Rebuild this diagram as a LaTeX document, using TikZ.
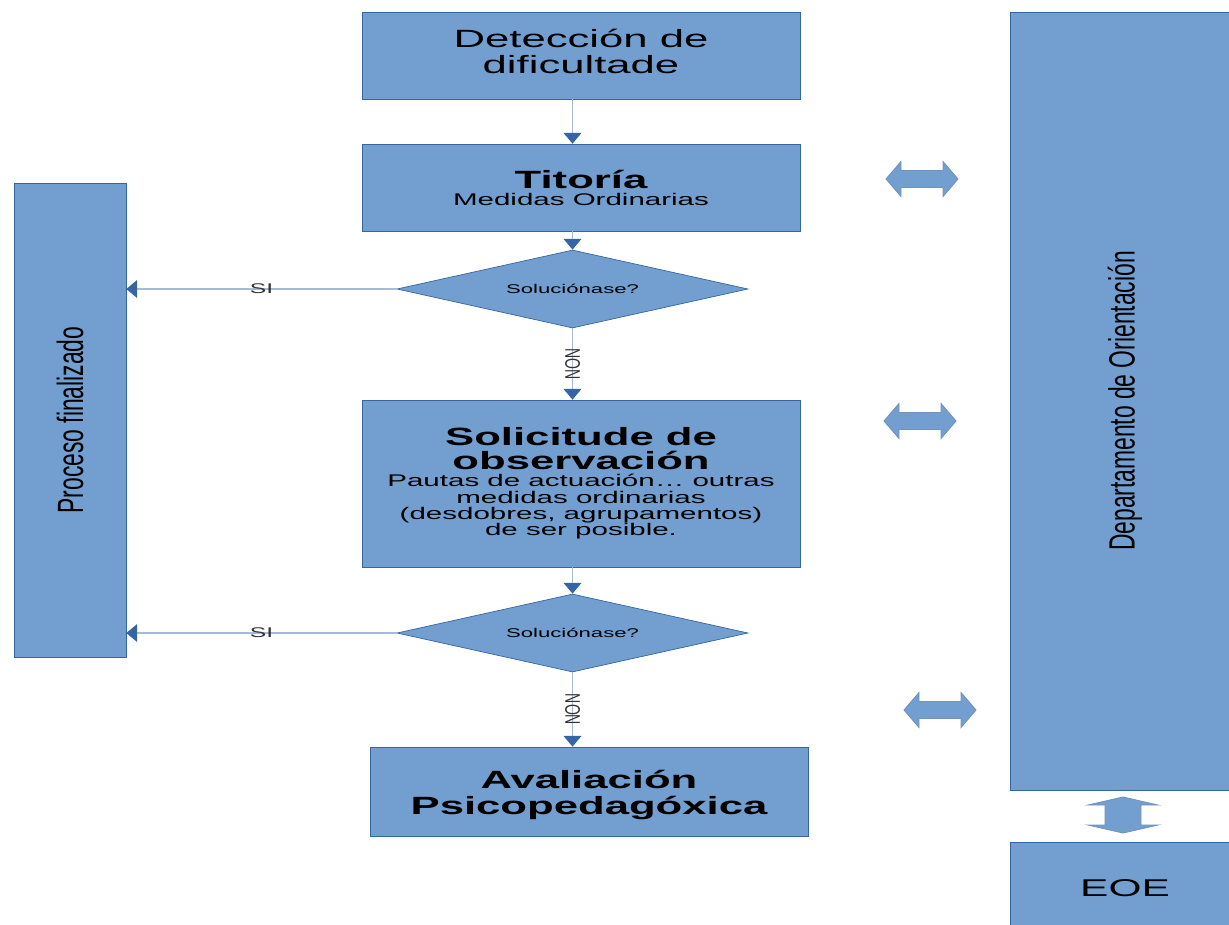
\documentclass[tikz,border=0pt]{standalone}
\usepackage{fontspec}
\setmainfont{Liberation Sans}
\usetikzlibrary{shapes.geometric,arrows.meta}
\definecolor{boxfill}{HTML}{729FCF}
\definecolor{boxline}{HTML}{3465A4}
\definecolor{conline}{HTML}{A7BBD6}
\begin{document}
\begin{tikzpicture}[x=0.02cm,y=-0.02cm,
  box/.style={draw=boxline,fill=boxfill,inner sep=0,minimum width=438*\pix,minimum height=87*\pix},
  dia/.style={diamond,draw=boxline,fill=boxfill,inner sep=0,aspect=4.5,minimum width=351*\pix,minimum height=78*\pix},
  con/.style={draw=conline,line width=0.9pt,-{Triangle[length=6.2pt,width=10.2pt,color=boxline]}},
  lbl/.style={text=black!80,inner sep=0,font=\fontsize{8}{9}\selectfont},
  dbl/.style={draw=boxline!70,fill=boxfill,line width=0.5pt}]
  \def\pix{0.02cm}
  \def\wide#1{\scalebox{1.75}[1]{#1}}
  \def\tall#1{\rotatebox{90}{\scalebox{1}[1.6]{#1}}}
  \def\harr#1#2{
    \draw[dbl] (#1-36,#2) -- (#1-21,#2-17.5) -- (#1-21,#2-8.5) -- (#1+21,#2-8.5) -- (#1+21,#2-17.5)
      -- (#1+36,#2) -- (#1+21,#2+17.5) -- (#1+21,#2+8.5) -- (#1-21,#2+8.5) -- (#1-21,#2+17.5) -- cycle;
  }
  \def\varr#1#2{
    \draw[dbl] (#1,#2-18) -- (#1+35,#2-10) -- (#1+18,#2-10) -- (#1+18,#2+10) -- (#1+35,#2+10)
      -- (#1,#2+18) -- (#1-35,#2+10) -- (#1-18,#2+10) -- (#1-18,#2-10) -- (#1-35,#2-10) -- cycle;
  }
  \useasboundingbox (0,0) rectangle (1229,924);

  % main column
  \node[box] (det) at (581,55.5) {\wide{\fontsize{14.2}{14.6}\selectfont
    \begin{tabular}{@{}c@{}}Detección de\\ dificultade\end{tabular}}};
  \node[box] (tit) at (581,187.5) {\wide{\fontsize{9.6}{9.6}\selectfont
    \begin{tabular}{@{}c@{}}\rule{0pt}{14pt}{\fontsize{14.2}{15}\selectfont\bfseries Titoría}\\ Medidas Ordinarias\end{tabular}}};
  \node[dia] (d1) at (572.5,289) {\wide{\fontsize{7.2}{8}\selectfont Soluciónase?}};
  \node[box,minimum height=167*\pix] (sol) at (581,483.5) {\wide{\fontsize{9.6}{8.8}\selectfont
    \begin{tabular}{@{}c@{}}{\fontsize{14.2}{13}\selectfont\bfseries Solicitude de}\\[1pt]
    {\fontsize{14.2}{13}\selectfont\bfseries observación}\\
    Pautas de actuación\dots{} outras\\[-0.4pt] medidas ordinarias\\[-0.4pt]
    (desdobres, agrupamentos)\\[-0.4pt] de ser posible.\end{tabular}}};
  \node[dia] (d2) at (572.5,633) {\wide{\fontsize{7.2}{8}\selectfont Soluciónase?}};
  \node[box,minimum height=89*\pix] (aval) at (589,791.5) {\wide{\fontsize{14.2}{14.7}\selectfont\bfseries
    \begin{tabular}{@{}c@{}}\rule{0pt}{15.5pt}Avaliación\\ Psicopedagóxica\end{tabular}}};

  % side boxes
  \node[box,minimum width=112*\pix,minimum height=474*\pix] (proc) at (70,420)
    {\tall{\fontsize{13}{14}\selectfont Proceso finalizado}};
  \node[box,minimum width=230*\pix,minimum height=778*\pix] (dept) at (1125,401)
    {\tall{\fontsize{13}{14}\selectfont Departamento de Orientación}};
  \node[box,minimum width=230*\pix,minimum height=93*\pix] (eoe) at (1125,888.5)
    {\wide{\fontsize{13.8}{15}\selectfont EOE}};

  % connectors
  \draw[con] (det.south -| d1) -- (tit.north -| d1);
  \draw[con] (tit.south -| d1) -- (d1.north);
  \draw[con] (d1.west) -- (d1.west -| proc.east) node[lbl,midway] {\wide{SI}};
  \draw[con] (d1.south) -- (sol.north -| d1) node[lbl,midway,rotate=-90] {\scalebox{1}[1.5]{NON}};
  \draw[con] (sol.south -| d2) -- (d2.north);
  \draw[con] (d2.west) -- (d2.west -| proc.east) node[lbl,midway] {\wide{SI}};
  \draw[con] (d2.south) -- (aval.north -| d2) node[lbl,midway,rotate=-90] {\scalebox{1}[1.5]{NON}};

  % links to the department
  \harr{922}{179}
  \harr{920}{421}
  \harr{940}{710}
  \varr{1123}{815}
\end{tikzpicture}
\end{document}
